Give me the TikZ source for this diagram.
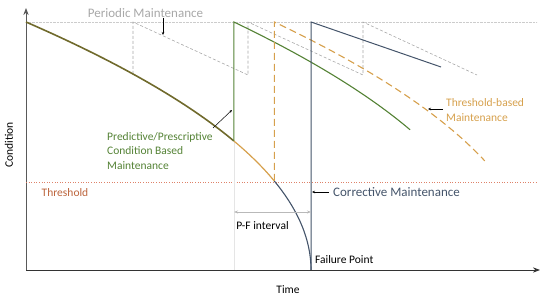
\documentclass[tikz,border=0pt]{standalone}
\usepackage{fontspec}
\setmainfont{Carlito}
\usetikzlibrary{arrows.meta}

\definecolor{olivecurve}{RGB}{112,106,44}
\definecolor{pdmgreen}{RGB}{84,130,53}
\definecolor{throrange}{RGB}{214,160,76}
\definecolor{cmblue}{RGB}{68,84,106}
\definecolor{pmgray}{RGB}{168,168,168}
\definecolor{thrred}{RGB}{222,130,105}
\definecolor{thrtext}{RGB}{188,100,60}

\begin{document}
\begin{tikzpicture}[x=1pt,y=-1pt,>=Stealth,
  lbl/.style={inner sep=0pt,font=\fontsize{11.5}{14.5}\selectfont},
  biglbl/.style={inner sep=0pt,font=\fontsize{13}{15}\selectfont},
  callout/.style={->,black,line width=0.5pt,>={Stealth[length=3pt,width=2.5pt]}}]
\useasboundingbox (0,0) rectangle (550,299);
% axes
\draw[->,gray!70!black,line width=0.9pt] (26,270) -- (26,8);
\draw[->,black!80,line width=0.9pt] (26,270) -- (540,270);
\node[lbl,rotate=90] (ylab) at (9,145) {Condition};
\node[lbl] (xlab) at (288,290) {Time};
% reference lines
\draw[densely dotted,gray!40] (26,22) -- (537,22);
\draw[dotted,thrred,line width=0.6pt] (26,182) -- (537,182);
\node[lbl,text=thrtext] (thr) at (65,193) {Threshold};
% key points on the ageing curve
\coordinate (M) at (133,74);
\coordinate (P) at (233.9,141);
\coordinate (T) at (274.3,181);
\coordinate (F) at (311,270);
\draw[gray!20] (P) -- (233.9,270);
% periodic maintenance
\draw[pmgray,dash pattern=on 3pt off 2pt,line width=0.6pt]
  (M) -- (133,22) -- (248,75) -- (248,22) -- (363,75) -- (363,22) -- (477,75);
% ageing curve
\draw[olivecurve,line width=1.6pt] plot[domain=1:0.52,samples=40,variable=\s]
  ({26+285*(1-\s*\s)},{22+248*(1-\s)});
\draw[throrange,line width=1.2pt] plot[domain=0.52:0.359,samples=20,variable=\s]
  ({26+285*(1-\s*\s)},{22+248*(1-\s)});
\draw[cmblue,line width=1.1pt] plot[domain=0.359:0,samples=30,variable=\s]
  ({26+285*(1-\s*\s)},{22+248*(1-\s)});
% predictive / prescriptive
\draw[pdmgreen,line width=1.1pt] (P) -- (233.9,22) -- plot[domain=1:0.565,samples=40,variable=\s]
  ({233.9+259*(1-\s*\s)},{22+248*(1-\s)});
% threshold-based
\draw[throrange,line width=1.1pt,dash pattern=on 7pt off 4pt] (T) -- (274.3,22)
  -- plot[domain=1:0.44,samples=40,variable=\s] ({274.3+261*(1-\s*\s)},{22+248*(1-\s)});
% corrective
\draw[cmblue,line width=1pt] (F) -- (311,22) -- (441,67);
% P-F interval
\coordinate (pfa) at (234,212);
\coordinate (pfb) at (311,212);
\draw[<->,gray!55,line width=0.8pt,>={Stealth[length=4pt,width=3pt]}] (pfa) -- (pfb);
\node[lbl] (pf) at (262.5,226) {P-F interval};
\node[lbl,anchor=west] (fail) at (315,260) {Failure Point};
% labels with callouts
\node[biglbl,text=pmgray] (pm) at (145.5,13) {Periodic Maintenance};
\coordinate (pmtip) at (163,35);
\draw[callout] (pm.south -| pmtip) -- (pmtip);
\node[lbl,text=pdmgreen,align=left,anchor=north west] (pdm) at (107,132)
  {Predictive/Prescriptive\\Condition Based\\Maintenance};
\coordinate (pdmtip) at (232,110);
\draw[callout] (213,128) -- (pdmtip);
\node[lbl,text=throrange,align=left,anchor=west] (tbm) at (446,110)
  {Threshold-based\\Maintenance};
\coordinate (tbmtip) at (428,109);
\draw[callout] ([xshift=-3pt]tbm.west |- tbmtip) -- (tbmtip);
\node[biglbl,text=cmblue,anchor=west] (cm) at (333,192) {Corrective Maintenance};
\coordinate (cmtip) at (312,192);
\draw[callout] ([xshift=-4pt]cm.west) -- (cmtip);
\end{tikzpicture}
\end{document}
